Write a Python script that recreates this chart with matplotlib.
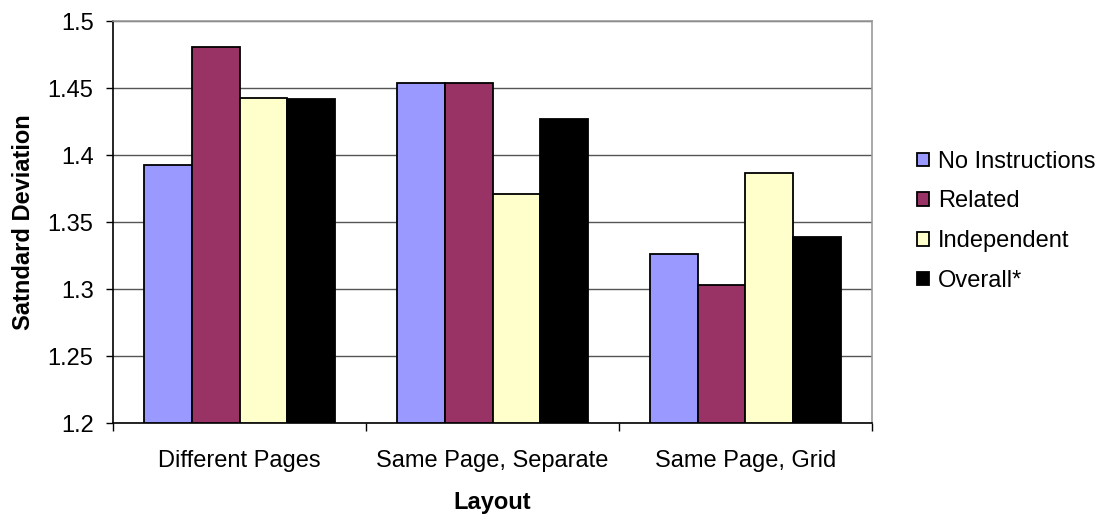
import matplotlib
matplotlib.use('Agg')
import matplotlib.pyplot as plt
import numpy as np

plt.rcParams['font.family'] = ['Liberation Sans', 'DejaVu Sans']

# Standard deviation by layout and instruction condition
layouts = ['Different Pages', 'Same Page, Separate', 'Same Page, Grid']
series = ['No Instructions', 'Related', 'Independent', 'Overall*']
no_instructions = [1.393, 1.454, 1.326]
related = [1.481, 1.454, 1.303]
independent = [1.443, 1.371, 1.387]
overall = [1.442, 1.427, 1.339]
colors = ['#9999FF', '#993366', '#FFFFCC', '#000000']

values = [no_instructions, related, independent, overall]

fig = plt.figure(figsize=(11.08, 5.16), dpi=100)
ax = fig.add_axes([0.102, 0.180, 0.685, 0.779])

x = np.arange(len(layouts))
width = 0.189
base = 1.2
for i, (name, vals, c) in enumerate(zip(series, values, colors)):
    offs = (i - 1.5) * width
    ax.bar(x + offs, np.array(vals) - base, width, bottom=base, color=c,
           edgecolor='black', linewidth=1.3, label=name, zorder=3)

ax.set_xlim(-0.5, 2.5)
ax.set_ylim(1.2, 1.5)
ax.set_yticks(np.arange(1.2, 1.501, 0.05))
ax.set_yticklabels(['1.2', '1.25', '1.3', '1.35', '1.4', '1.45', '1.5'])
ax.yaxis.grid(True, color='#555555', linewidth=1)
ax.set_axisbelow(True)

# category ticks sit between groups
ax.set_xticks(x)
ax.set_xticklabels(layouts)
ax.set_xticks([-0.5, 0.5, 1.5, 2.5], minor=True)
ax.tick_params(axis='x', which='major', length=0, pad=19, labelsize=17)
ax.tick_params(axis='x', which='minor', length=6, direction='out', width=1)
ax.tick_params(axis='y', length=5, direction='out', width=1, labelsize=17, pad=9)

for s in ['top', 'right']:
    ax.spines[s].set_color('#999999')
    ax.spines[s].set_linewidth(1.2)
for s in ['left', 'bottom']:
    ax.spines[s].set_color('black')
    ax.spines[s].set_linewidth(1.2)

ax.set_xlabel('Layout', fontsize=17, fontweight='bold', labelpad=14)
ax.set_ylabel('Satndard Deviation', fontsize=17, fontweight='bold', labelpad=9)

ax.legend(loc='center left', bbox_to_anchor=(1.031, 0.502), frameon=False,
          fontsize=17, handlelength=0.5, handleheight=0.5,
          handletextpad=0.4, labelspacing=0.75)

fig.savefig('out.png', dpi=100)
